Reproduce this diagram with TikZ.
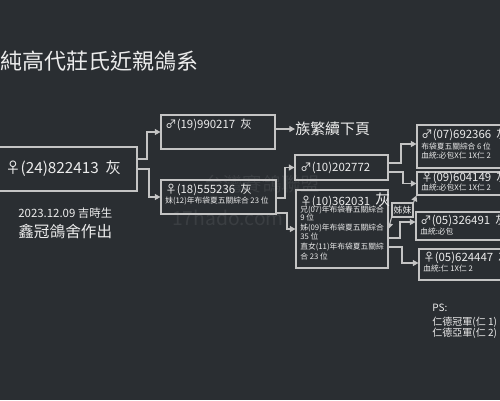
\documentclass[tikz,border=0pt]{standalone}
\usepackage{fontspec}
\setmainfont{Noto Sans CJK TC}
\usetikzlibrary{arrows.meta,fit}
\definecolor{bgc}{RGB}{42,46,50}
\definecolor{linec}{RGB}{196,196,196}
\definecolor{txtc}{RGB}{236,236,236}
\newcommand{\myfs}[1]{\fontsize{#1}{#1}\selectfont}
\begin{document}
\begin{tikzpicture}[x=0.02cm,y=-0.02cm,
  pbox/.style={draw=linec, line width=0.6pt, inner sep=0pt, fit={#1}},
  conn/.style={draw=linec, line width=0.6pt, -{Triangle[length=3.2pt,width=3.4pt]}},
  txt/.style={text=txtc, anchor=west, inner sep=0pt},
  ttl/.style={txt, font=\myfs{12.5}},
  big/.style={txt, font=\myfs{8.7}},
  mid/.style={txt, font=\myfs{6.5}},
  sml/.style={txt, font=\myfs{4.4}},
  wm/.style={text=white, opacity=0.08, inner sep=0pt, font=\myfs{11}}]
\useasboundingbox (0,0) rectangle (500,400);
\clip (0,0) rectangle (500,400);
\fill[bgc] (0,0) rectangle (500,400);

% watermark
\node[wm] (wm1) at (262,184) {台灣賽鴿聯盟};
\node[wm] (wm2) at (228,218) {17hado.com};

% title
\node[ttl] (title) at (0,61) {純高代莊氏近親鴿系};

% main bird
\node[pbox={(-5,147) (137,191)}] (b24) {};
\node[big] (t24) at (5,169) {♀(24)822413\ \ 灰};
\node[txt, font=\myfs{6.5}] (date) at (18,213) {2023.12.09 吉時生};
\node[txt, font=\myfs{8.9}] (maker) at (18,231) {鑫冠鴿舍作出};

% parents
\node[pbox={(161,115) (275,149)}] (b19) {};
\node[mid] (t19) at (165,125) {♂(19)990217\ \ 灰};
\node[txt, font=\myfs{8.5}] (nxt) at (295,129) {族繁續下頁};

\node[pbox={(161,180) (276,214)}] (b18) {};
\node[mid] (t18a) at (165,190) {♀(18)555236\ \ 灰};
\node[sml] (t18b) at (165,201) {妹(12)年布袋夏五關綜合 23 位};

% grandparents
\node[pbox={(295,155) (388,180)}] (b10a) {};
\node[mid] (t10a) at (300,168) {♂(10)202772};

\node[pbox={(296,190) (388,268)}] (b10b) {};
\node[mid] (t10b) at (300,200) {♀(10)362031\ \ {\myfs{8.5}灰}};
\node[sml] (t10b1) at (300,210) {兄(07)年布袋春五關綜合};
\node[sml] (t10b2) at (300,218) {9 位};
\node[sml] (t10b3) at (300,228) {姊(09)年布袋夏五關綜合};
\node[sml] (t10b4) at (300,237) {35 位};
\node[sml] (t10b5) at (300,247) {直女(11)年布袋夏五關綜};
\node[sml] (t10b6) at (300,257) {合 23 位};

% great-grandparents
\node[pbox={(417,125) (512,168)}] (b07) {};
\node[mid] (t07a) at (421,135) {♂(07)692366\ \ 灰};
\node[sml] (t07b) at (421,147) {布袋夏五關綜合 6 位};
\node[sml] (t07c) at (421,156) {血統:必包X仁 1X仁 2};

\node[pbox={(417,172) (512,195)}] (b09) {};
\node[mid] (t09a) at (421,178) {♀(09)604149\ \ 灰};
\node[sml] (t09b) at (421,188) {血統:必包X仁 1X仁 2};

\node[pbox={(416,212) (512,240)}] (b05a) {};
\node[mid] (t05a) at (420,221) {♂(05)326491\ \ 灰};
\node[sml] (t05b) at (420,232) {血統:必包};

\node[pbox={(419,249) (512,280)}] (b05b) {};
\node[mid] (t05c) at (423,258) {♀(05)624447\ \ 灰};
\node[sml] (t05d) at (423,269) {血統:仁 1X仁 2};

% sisters label
\node[pbox={(392,203) (413,217)}, fill=bgc] (lbl) {};
\node[text=txtc, inner sep=0pt, font=\myfs{5}] (lbltxt) at (lbl.center) {姊妹};

% PS
\node[txt, font=\myfs{5.7}] (ps0) at (432,308) {PS:};
\node[txt, font=\myfs{5.7}] (ps1) at (432,322) {仁德冠軍(仁 1)};
\node[txt, font=\myfs{5.7}] (ps2) at (432,333) {仁德亞軍(仁 2)};

% connectors
\draw[conn] (b24.east |- 0,159) -- (147,159) |- (b19.west);
\draw[conn] (b24.east |- 0,169) -- (149,169) |- (b18.west);
\draw[conn] (b19.east |- nxt.west) -- (nxt.west);
\draw[conn] (b18.east |- 0,198) -- (285,198) |- (b10a.west);
\draw[conn] (b18.east |- 0,213) -- (287,213) |- (b10b.west |- 0,229);
\draw[conn] (b10a.east |- 0,163) -- (401,163) |- (b07.west |- 0,144);
\draw[conn] (b10a.east |- 0,172) -- (403,172) |- (b09.west);
\draw[conn] (b10b.east |- 0,238) -- (400,238) |- (b05a.west |- 0,222);
\draw[conn] (b10b.east |- 0,247) -- (402,247) |- (b05b.west |- 0,263);
\draw[conn] (lbl.south west) -- (b10b.east |- 0,229);
\draw[conn] (lbl.north east) -- (b09.south west);
\end{tikzpicture}
\end{document}
